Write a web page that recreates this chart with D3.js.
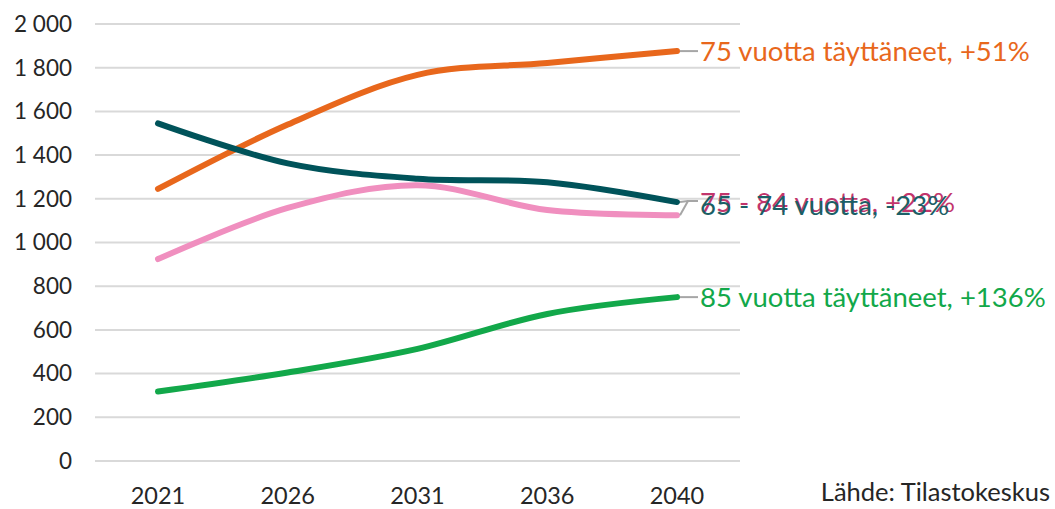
<!DOCTYPE html>
<html>
<head>
<meta charset="utf-8">
<script src="https://cdn.jsdelivr.net/npm/d3@7"></script>
<style>
  body { margin: 0; background: #fff; }
  svg text { font-family: Lato, "Open Sans", sans-serif; }
</style>
</head>
<body>
<svg width="1055" height="509"></svg>
<script>
const years = ["2021", "2026", "2031", "2036", "2040"];
const yTicks = [0, 200, 400, 600, 800, 1000, 1200, 1400, 1600, 1800, 2000];

const seriesNames = ["75 vuotta täyttäneet", "65 - 74 vuotta", "75 - 84 vuotta", "85 vuotta täyttäneet"];
const seriesChange = ["+51%", "-23%", "+22%", "+136%"];
const aged75plus = [1245, 1540, 1767, 1822, 1876];
const aged65to74 = [1545, 1362, 1292, 1276, 1185];
const aged75to84 = [924, 1158, 1262, 1149, 1125];
const aged85plus = [318, 405, 513, 673, 750];

const lineColors = ["#e8671c", "#00535a", "#f08fbf", "#12a84a"];
const labelColors = ["#e8671c", "#1b5f66", "#c2356c", "#12a84a"];

const series = [aged75plus, aged65to74, aged75to84, aged85plus];

const svg = d3.select("svg");

const x = d3.scalePoint().domain(years).range([158, 677]);
const y = d3.scaleLinear().domain([0, 2000]).range([461, 24]);

// gridlines
svg.append("g")
    .selectAll("line")
    .data(yTicks)
    .join("line")
    .attr("x1", 95)
    .attr("x2", 740)
    .attr("y1", d => y(d))
    .attr("y2", d => y(d))
    .attr("stroke", "#d9d9d9")
    .attr("stroke-width", 2);

// y labels, space as thousands separator
svg.append("g")
    .selectAll("text")
    .data(yTicks)
    .join("text")
    .attr("x", 72)
    .attr("y", d => y(d))
    .attr("dy", "0.35em")
    .attr("text-anchor", "end")
    .attr("font-size", 22.5)
    .attr("fill", "#262626")
    .text(d => d3.format(",")(d).replace(",", " "));

// x labels
svg.append("g")
    .selectAll("text")
    .data(years)
    .join("text")
    .attr("x", d => x(d))
    .attr("y", 496)
    .attr("dy", "0.35em")
    .attr("text-anchor", "middle")
    .attr("font-size", 23.5)
    .attr("fill", "#262626")
    .text(d => d);

svg.append("text")
    .attr("x", 1050)
    .attr("y", 492)
    .attr("dy", "0.35em")
    .attr("text-anchor", "end")
    .attr("font-size", 25.5)
    .attr("fill", "#262626")
    .text("Lähde: Tilastokeskus");

const line = d3.line()
    .x((d, i) => x(years[i]))
    .y(d => y(d))
    .curve(d3.curveCardinal.tension(0));

// draw pink before teal so teal sits on top like the original
const drawOrder = [2, 0, 1, 3];
svg.append("g")
    .selectAll("path")
    .data(drawOrder)
    .join("path")
    .attr("d", i => line(series[i]))
    .attr("fill", "none")
    .attr("stroke", i => lineColors[i])
    .attr("stroke-width", 6)
    .attr("stroke-linecap", "round");

// end labels with leader lines (teal and pink labels overlap, as in the original)
const last = years[years.length - 1];
const labelY = series.map((s, i) => (i === 1 || i === 2) ? y(1185) + (i === 1 ? 3 : 0) : y(s[s.length - 1]));

svg.append("g")
    .selectAll("polyline")
    .data(series)
    .join("polyline")
    .attr("points", (s, i) => {
        const x0 = x(last) + 3, y0 = y(s[s.length - 1]);
        const ly = (i === 1 || i === 2) ? y(1190) : y0;
        return [[x0, y0], [x0 + 8, ly], [x0 + 18, ly]].map(p => p.join(",")).join(" ");
    })
    .attr("fill", "none")
    .attr("stroke", "#a6a6a6")
    .attr("stroke-width", 2);

svg.append("g")
    .selectAll("text")
    .data([0, 3, 2, 1])
    .join("text")
    .attr("x", x(last) + 23)
    .attr("y", i => labelY[i])
    .attr("dy", "0.35em")
    .attr("font-size", 27.5)
    .attr("fill", i => labelColors[i])
    .text(i => seriesNames[i] + ", " + seriesChange[i]);
</script>
</body>
</html>
